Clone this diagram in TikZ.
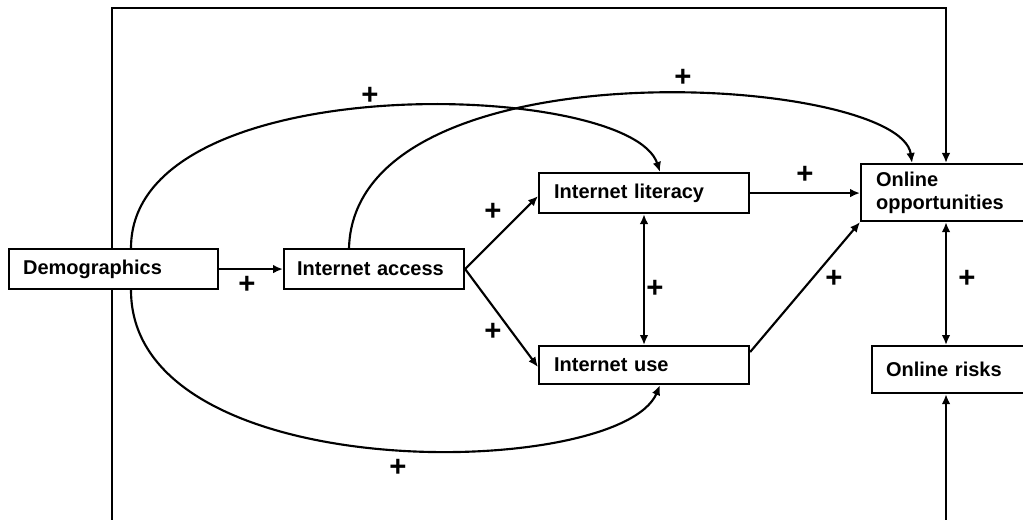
\documentclass[tikz,border=0pt]{standalone}
\usepackage{fontspec}
\setmainfont{Liberation Sans}
\usetikzlibrary{arrows.meta}
\begin{document}
\begin{tikzpicture}[x=0.75pt,y=-0.75pt,
  line width=1.6pt,
  arr/.style={-{Latex[length=7.5pt,width=6.5pt]}},
  darr/.style={{Latex[length=7.5pt,width=6.5pt]}-{Latex[length=7.5pt,width=6.5pt]}},
  box/.style={draw,fill=white,anchor=north west,inner xsep=0pt,inner ysep=0pt,
    font=\fontsize{15pt}{17pt}\selectfont\bfseries,align=left},
  plus/.style={font=\fontsize{22pt}{22pt}\selectfont\bfseries,inner sep=0pt}]
\useasboundingbox (0,0) rectangle (1023,520);
\clip (0,0) rectangle (1023,520);
% frame coordinates
\coordinate (tl) at (112,8);
\coordinate (tr) at (946,8);
\coordinate (bl) at (112,540);
\coordinate (br) at (946,540);
\coordinate (mx) at (644,0);
\coordinate (dx) at (131,0);
\coordinate (ax) at (349,0);
\coordinate (lx) at (660,0);
\coordinate (ox) at (912,0);
% frame line (under the boxes)
\draw (tl) -- (bl);
% boxes
\node[box,minimum width=156.75pt,minimum height=30pt,text width=156.75pt] (demo) at (8,248) {\hspace*{10.5pt}Demographics};
\node[box,minimum width=135pt,minimum height=30pt,text width=135pt] (access) at (283,248) {\hspace*{9.75pt}Internet access};
\node[box,minimum width=157.5pt,minimum height=30pt,text width=157.5pt] (lit) at (538,172) {\hspace*{11.25pt}Internet literacy};
\node[box,minimum width=157.5pt,minimum height=28.5pt,text width=157.5pt] (use) at (538,345) {\hspace*{11.25pt}Internet use};
\node[box,minimum width=131.25pt,minimum height=42.75pt,text width=131.25pt] (opp) at (860,163) {\hspace*{11.25pt}Online\\\hspace*{11.25pt}opportunities};
\node[box,minimum width=123.75pt,minimum height=35.25pt,text width=123.75pt] (risks) at (871,345) {\hspace*{10.5pt}Online risks};
% frame arrows
\draw[arr] (demo.north -| tl) -- (tl) -- (tr) -- (opp.north -| tr);
\draw[arr] (demo.south -| bl) -- (bl) -- (br) -- (risks.south -| br);
% straight connectors
\draw[arr] (demo.east) -- (access.west);
\draw[arr] (access.east) -- ([yshift=-2.25pt]lit.west);
\draw[arr] (access.east) -- ([yshift=-1.5pt]use.west);
\draw[darr] (lit.south -| mx) -- (use.north -| mx);
\draw[arr] (lit.east) -- (lit.east -| opp.west);
\draw[arr] ([yshift=-5.25pt]use.north east) -- (opp.south west);
\draw[darr] (opp.south -| tr) -- (risks.north -| tr);
% curved connectors
\draw[arr] (demo.north -| dx) .. controls (131,65) and (630,80) .. (lit.north -| lx);
\draw[arr] (access.north -| ax) .. controls (355,40) and (900,75) .. (opp.north -| ox);
\draw[arr] (demo.south -| dx) .. controls (131,490) and (620,480) .. (use.south -| lx);
% plus labels
\node[plus] (p1) at (370,96) {+};
\node[plus] (p2) at (683,78) {+};
\node[plus] (p3) at (805,175) {+};
\node[plus] (p4) at (493,212) {+};
\node[plus] (p5) at (247,285) {+};
\node[plus] (p6) at (655,289) {+};
\node[plus] (p7) at (493,332) {+};
\node[plus] (p8) at (834,279) {+};
\node[plus] (p9) at (967,279) {+};
\node[plus] (p10) at (398,468) {+};
\end{tikzpicture}
\end{document}
